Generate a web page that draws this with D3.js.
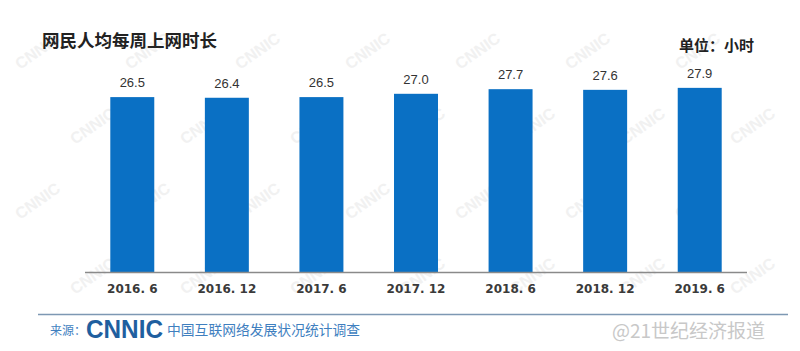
<!DOCTYPE html>
<html>
<head>
<meta charset="utf-8">
<script src="https://cdn.jsdelivr.net/npm/d3@7"></script>
<style>
  body { margin: 0; background: #fff; }
  svg { display: block; }
</style>
</head>
<body>
<div id="chart"></div>
<script>
const periods = ['2016. 6', '2016. 12', '2017. 6', '2017. 12', '2018. 6', '2018. 12', '2019. 6'];
const hours = [26.5, 26.4, 26.5, 27.0, 27.7, 27.6, 27.9];

const width = 800;
const height = 351;

const svg = d3.select('#chart')
  .append('svg')
  .attr('width', width)
  .attr('height', height);

svg.append('rect')
  .attr('width', width)
  .attr('height', height)
  .attr('fill', '#fff');

// faint CNNIC watermark pattern, kept inside the picture
const wm = svg.append('g').attr('fill', '#f1f1f1')
  .style('font-family', 'Arial, "Liberation Sans", sans-serif')
  .style('font-weight', 'bold')
  .style('font-size', '16px');
for (let r = 0; r < 4; r++) {
  for (let c = 0; c < 7; c++) {
    wm.append('text')
      .attr('transform', `translate(${c * 110 + (r % 2) * 55 + 20},${r * 75 + 70}) rotate(-35)`)
      .text('CNNIC');
  }
}

// scales
const xScale = d3.scaleBand()
  .domain(periods)
  .range([85, 747])
  .paddingInner(0.535)
  .paddingOuter(0.2675);

const yScale = d3.scaleLinear()
  .domain([0, 30])
  .range([272, 74]);

const g = svg.append('g');

// bars
g.selectAll('rect.bar')
  .data(hours)
  .enter().append('rect')
  .attr('class', 'bar')
  .attr('x', (d, i) => xScale(periods[i]))
  .attr('width', xScale.bandwidth())
  .attr('y', d => yScale(d))
  .attr('height', d => yScale(0) - yScale(d))
  .attr('fill', '#0a70c4');

// value labels
g.selectAll('text.val')
  .data(hours)
  .enter().append('text')
  .attr('class', 'val')
  .attr('x', (d, i) => xScale(periods[i]) + xScale.bandwidth() / 2)
  .attr('y', d => yScale(d) - 10)
  .attr('text-anchor', 'middle')
  .style('font-family', 'Arial, "Liberation Sans", sans-serif')
  .style('font-size', '13px')
  .attr('fill', '#333')
  .text(d => d.toFixed(1));

// x axis
const xAxis = d3.axisBottom(xScale)
  .tickSize(0)
  .tickPadding(12);

const xAxisG = g.append('g')
  .attr('transform', `translate(0,${yScale(0)})`)
  .call(xAxis);

xAxisG.select('.domain')
  .attr('d', 'M85,0.5H747')
  .attr('stroke', '#8a8a8a')
  .attr('stroke-width', 1.5);

xAxisG.selectAll('text')
  .style('font-family', '"DejaVu Sans", "Noto Sans", sans-serif')
  .style('font-size', '12px')
  .style('font-weight', 'bold')
  .attr('fill', '#3a3a3a');

// title
svg.append('text')
  .attr('x', 42)
  .attr('y', 47)
  .style('font-family', '"Noto Sans CJK SC", sans-serif')
  .style('font-size', '17.5px')
  .style('font-weight', 'bold')
  .attr('fill', '#222')
  .text('网民人均每周上网时长');

svg.append('text')
  .attr('x', 679)
  .attr('y', 51)
  .style('font-family', '"Noto Sans CJK SC", sans-serif')
  .style('font-size', '15px')
  .style('font-weight', 'bold')
  .attr('fill', '#222')
  .text('单位：小时');

// footer
svg.append('line')
  .attr('x1', 38)
  .attr('x2', 788)
  .attr('y1', 314.5)
  .attr('y2', 314.5)
  .attr('stroke', '#7d98b3')
  .attr('stroke-width', 1.5);

svg.append('text')
  .attr('x', 50)
  .attr('y', 335)
  .style('font-family', '"Noto Sans CJK SC", sans-serif')
  .style('font-size', '12px')
  .attr('fill', '#3f7fbf')
  .text('来源：');

svg.append('text')
  .attr('x', 86)
  .attr('y', 338)
  .style('font-family', 'Arial, "Liberation Sans", sans-serif')
  .style('font-size', '25px')
  .style('font-weight', 'bold')
  .attr('fill', '#1f5f9f')
  .attr('textLength', 77)
  .attr('lengthAdjust', 'spacingAndGlyphs')
  .text('CNNIC');

svg.append('text')
  .attr('x', 167)
  .attr('y', 335)
  .style('font-family', '"Noto Sans CJK SC", sans-serif')
  .style('font-size', '13.8px')
  .attr('fill', '#3f7fbf')
  .text('中国互联网络发展状况统计调查');

svg.append('text')
  .attr('x', 612)
  .attr('y', 338)
  .style('font-family', '"Noto Sans CJK SC", sans-serif')
  .style('font-size', '19px')
  .attr('fill', '#c8c8c8')
  .text('@21世纪经济报道');
</script>
</body>
</html>
